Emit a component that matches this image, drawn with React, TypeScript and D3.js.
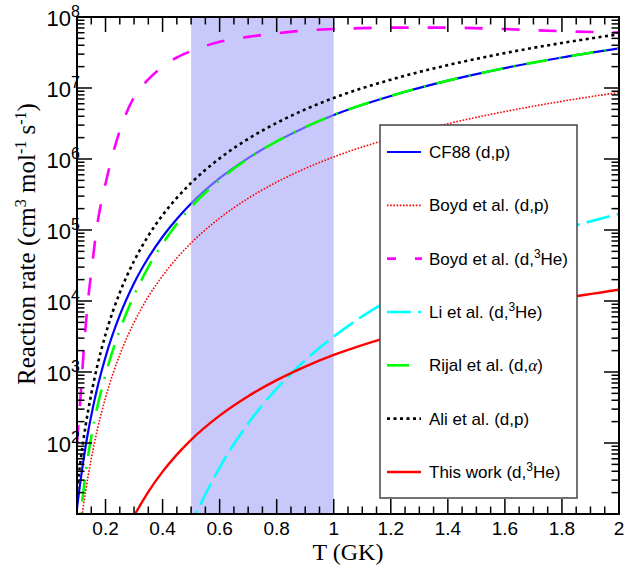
import React from 'react';
import * as d3 from 'd3';

// Temperature grid (GK)
const temperatures = [0.1, 0.11, 0.12, 0.13, 0.14, 0.15, 0.17, 0.2, 0.25, 0.3, 0.35, 0.4, 0.45, 0.5, 0.6, 0.7, 0.8, 0.9, 1.0, 1.2, 1.4, 1.6, 1.8, 2.0];

// Reaction rates (cm^3 mol^-1 s^-1)
const cf88Rate = [12.0, 25.1, 48.8, 88.5, 151, 243, 570, 1629, 6310, 1.78e4, 4.06e4, 8.04e4, 1.43e5, 2.36e5, 5.36e5, 1.03e6, 1.77e6, 2.81e6, 4.17e6, 7.73e6, 1.27e7, 1.91e7, 2.69e7, 3.62e7];
const boydDpRate = [2.44, 5.37, 11.0, 20.7, 36.2, 59.8, 146, 435, 1746, 4989, 1.15e4, 2.26e4, 4.02e4, 6.56e4, 1.47e5, 2.79e5, 4.72e5, 7.35e5, 1.07e6, 1.95e6, 3.14e6, 4.66e6, 6.5e6, 8.67e6];
const boydD3HeRate = [100, 331, 1259, 4266, 1.15e4, 2.51e4, 1.12e5, 4.47e5, 2.51e6, 7.41e6, 1.32e7, 2.0e7, 2.69e7, 3.31e7, 4.47e7, 5.25e7, 5.89e7, 6.46e7, 6.76e7, 7.08e7, 7.08e7, 6.76e7, 6.31e7, 6.03e7];
const liD3HeRate = [null, null, null, null, null, null, null, null, null, null, null, null, 2.1, 6.9, 45.1, 188, 583, 1469, 3162, 1.07e4, 2.7e4, 5.62e4, 1.02e5, 1.69e5];
const rijalDaRate = [3.38, 7.93, 17.3, 36.9, 70.5, 122, 306, 916, 3890, 1.2e4, 3.01e4, 6.38e4, 1.22e5, 2.1e5, 5.06e5, 1.01e6, 1.77e6, 2.81e6, 4.17e6, 7.73e6, 1.27e7, 1.91e7, 2.69e7, 3.62e7];
const aliDpRate = [21.9, 47.2, 94.2, 174, 301, 490, 1167, 3373, 1.31e4, 3.66e4, 8.3e4, 1.62e5, 2.84e5, 4.6e5, 1.02e6, 1.92e6, 3.22e6, 4.99e6, 7.24e6, 1.31e7, 2.1e7, 3.1e7, 4.31e7, 5.71e7];
const thisWorkRate = [null, null, null, null, null, null, null, null, 3.45, 9.31, 20.5, 39.5, 68.7, 111, 243, 456, 767, 1191, 1738, 3184, 5152, 7674, 1.08e4, 1.44e4];

// Axis ticks
const xMajorTicks = [0.2, 0.4, 0.6, 0.8, 1.0, 1.2, 1.4, 1.6, 1.8, 2.0];
const xTickLabels = ['0.2', '0.4', '0.6', '0.8', '1', '1.2', '1.4', '1.6', '1.8', '2'];
const xMinorTicks = [0.1, 0.15, 0.25, 0.3, 0.35, 0.45, 0.5, 0.55, 0.65, 0.7, 0.75, 0.85, 0.9, 0.95, 1.05, 1.1, 1.15, 1.25, 1.3, 1.35, 1.45, 1.5, 1.55, 1.65, 1.7, 1.75, 1.85, 1.9, 1.95];
const yDecadeExponents = [1, 2, 3, 4, 5, 6, 7, 8];
const yLabelExponents = [2, 3, 4, 5, 6, 7, 8];
const yMinorMultipliers = [2, 3, 4, 5, 6, 7, 8, 9];

// Shaded temperature window
const shadeRange = [0.5, 1.0];

type Part = { t: string; sup?: boolean; greek?: boolean };

const legendLabels: Part[][] = [
  [{ t: 'CF88 (d,p)' }],
  [{ t: 'Boyd et al. (d,p)' }],
  [{ t: 'Boyd et al. (d,' }, { t: '3', sup: true }, { t: 'He)' }],
  [{ t: 'Li et al. (d,' }, { t: '3', sup: true }, { t: 'He)' }],
  [{ t: 'Rijal et al. (d,' }, { t: 'α', greek: true }, { t: ')' }],
  [{ t: 'Ali et al. (d,p)' }],
  [{ t: 'This work (d,' }, { t: '3', sup: true }, { t: 'He)' }],
];

const seriesData = [cf88Rate, boydDpRate, boydD3HeRate, liD3HeRate, rijalDaRate, aliDpRate, thisWorkRate];

const seriesStyle = [
  { color: '#0000ff', width: 2.2, dash: 'none', legOffset: 0, legLen: 34 },
  { color: '#ff0000', width: 1.6, dash: '1.6 1.6', legOffset: 0, legLen: 34 },
  { color: '#ff00ff', width: 2.6, dash: '18 19', legOffset: 9, legLen: 35 },
  { color: '#00ffff', width: 2.6, dash: '24 7', legOffset: 0, legLen: 34 },
  { color: '#00ff00', width: 2.6, dash: '22 11 2 11', legOffset: 0, legLen: 32 },
  { color: '#000000', width: 2.6, dash: '3 3.5', legOffset: 0, legLen: 34 },
  { color: '#ff0000', width: 2.4, dash: 'none', legOffset: 0, legLen: 34 },
];

const SANS = '"Liberation Sans", Arial, Helvetica, sans-serif';
const SERIF = '"Liberation Serif", "Times New Roman", serif';

function renderParts(parts: Part[], supSize: number, shift: number) {
  const out: any[] = [];
  let raised = false;
  parts.forEach((p, i) => {
    if (p.sup) {
      out.push(<tspan key={i} dy={-shift} fontSize={supSize}>{p.t}</tspan>);
      raised = true;
    } else {
      const dy = raised ? shift : 0;
      raised = false;
      out.push(
        <tspan key={i} dy={dy} fontFamily={p.greek ? SERIF : undefined} fontStyle={p.greek ? 'italic' : undefined}>
          {p.t}
        </tspan>
      );
    }
  });
  return out;
}

export default function App() {
  const W = 626, H = 565;
  const left = 77, right = 619, top = 17, bottom = 514;
  const x = d3.scaleLinear().domain([0.1, 2]).range([left, right]);
  const y = d3.scaleLog().domain([10, 1e8]).range([bottom, top]);

  const makePath = (vals: (number | null)[]) =>
    d3
      .line<number>()
      .defined((_, i) => vals[i] != null)
      .x((t) => x(t))
      .y((_, i) => y(vals[i] as number))
      .curve(d3.curveMonotoneX)(temperatures) || '';

  const majorLen = 15, minorLen = 7.5;
  const tickW = 1.5;

  const yMinor: number[] = [];
  yDecadeExponents.slice(0, -1).forEach((e) => {
    yMinorMultipliers.forEach((m) => yMinor.push(m * Math.pow(10, e)));
  });

  const renderCurve = (i: number) => {
    const s = seriesStyle[i];
    return (
      <path
        key={'c' + i}
        d={makePath(seriesData[i])}
        fill="none"
        stroke={s.color}
        strokeWidth={s.width}
        strokeDasharray={s.dash}
        strokeLinejoin="round"
      />
    );
  };

  const legX = 380, legY = 125, legW = 197, legH = 373;
  const legRowY = (i: number) => 152 + i * 53.33;

  return (
    <svg
      width={W}
      height={H}
      viewBox={`0 0 ${W} ${H}`}
      style={{ position: 'absolute', left: 0, top: 0, display: 'block', background: '#fff' }}
    >
      <defs>
        <clipPath id="plotClip">
          <rect x={left} y={top} width={right - left} height={bottom - top} />
        </clipPath>
      </defs>
      <rect x={0} y={0} width={W} height={H} fill="#fff" />
      <g clipPath="url(#plotClip)">
        {renderCurve(0)}
        <rect
          x={x(shadeRange[0])}
          y={top}
          width={x(shadeRange[1]) - x(shadeRange[0])}
          height={bottom - top}
          fill="rgb(163,163,247)"
          fillOpacity={0.6}
        />
        {[1, 2, 3, 4, 5, 6].map((i) => renderCurve(i))}
      </g>

      {/* Legend */}
      <rect x={legX} y={legY} width={legW} height={legH} fill="#fff" stroke="#444" strokeWidth={1.5} />
      {legendLabels.map((parts, i) => {
        const s = seriesStyle[i];
        const ly = legRowY(i);
        return (
          <g key={'l' + i}>
            <line
              x1={387}
              x2={387 + s.legLen}
              y1={ly}
              y2={ly}
              stroke={s.color}
              strokeWidth={s.width}
              strokeDasharray={s.dash}
              strokeDashoffset={s.legOffset}
            />
            <text x={429} y={ly + 6} fontFamily={SANS} fontSize={17} fill="#000">
              {renderParts(parts, 12, 7)}
            </text>
          </g>
        );
      })}

      {/* Ticks */}
      <g stroke="#000" strokeWidth={tickW}>
        {xMajorTicks.map((t, i) => (
          <g key={'xM' + i}>
            <line x1={x(t)} x2={x(t)} y1={bottom} y2={bottom - majorLen} />
            <line x1={x(t)} x2={x(t)} y1={top} y2={top + majorLen} />
          </g>
        ))}
        {xMinorTicks.map((t, i) => (
          <g key={'xm' + i}>
            <line x1={x(t)} x2={x(t)} y1={bottom} y2={bottom - minorLen} />
            <line x1={x(t)} x2={x(t)} y1={top} y2={top + minorLen} />
          </g>
        ))}
        {yDecadeExponents.map((e, i) => (
          <g key={'yM' + i}>
            <line x1={left} x2={left + majorLen} y1={y(Math.pow(10, e))} y2={y(Math.pow(10, e))} />
            <line x1={right} x2={right - majorLen} y1={y(Math.pow(10, e))} y2={y(Math.pow(10, e))} />
          </g>
        ))}
        {yMinor.map((v, i) => (
          <g key={'ym' + i}>
            <line x1={left} x2={left + minorLen} y1={y(v)} y2={y(v)} />
            <line x1={right} x2={right - minorLen} y1={y(v)} y2={y(v)} />
          </g>
        ))}
      </g>

      {/* Frame */}
      <rect x={left} y={top} width={right - left} height={bottom - top} fill="none" stroke="#000" strokeWidth={2} />

      {/* X tick labels */}
      {xMajorTicks.map((t, i) => (
        <text key={'xl' + i} x={x(t)} y={535} textAnchor="middle" fontFamily={SANS} fontSize={19} fill="#000">
          {xTickLabels[i]}
        </text>
      ))}

      {/* Y tick labels */}
      {yLabelExponents.map((e, i) => (
        <text key={'yl' + i} x={80} y={y(Math.pow(10, e)) + 9} textAnchor="end" fontFamily={SANS} fontSize={22} fill="#000">
          <tspan>10</tspan>
          <tspan dy={-9} fontSize={16}>{String(e)}</tspan>
        </text>
      ))}

      {/* Axis titles */}
      <text x={348} y={560} textAnchor="middle" fontFamily={SERIF} fontSize={24} fill="#000">
        T (GK)
      </text>
      <text
        transform={`translate(35, 244) rotate(-90)`}
        textAnchor="middle"
        fontFamily={SERIF}
        fontSize={25}
        fill="#000"
      >
        {renderParts(
          [
            { t: 'Reaction rate (cm' },
            { t: '3', sup: true },
            { t: ' mol' },
            { t: '-1', sup: true },
            { t: ' s' },
            { t: '-1', sup: true },
            { t: ')' },
          ],
          16,
          9
        )}
      </text>
    </svg>
  );
}
